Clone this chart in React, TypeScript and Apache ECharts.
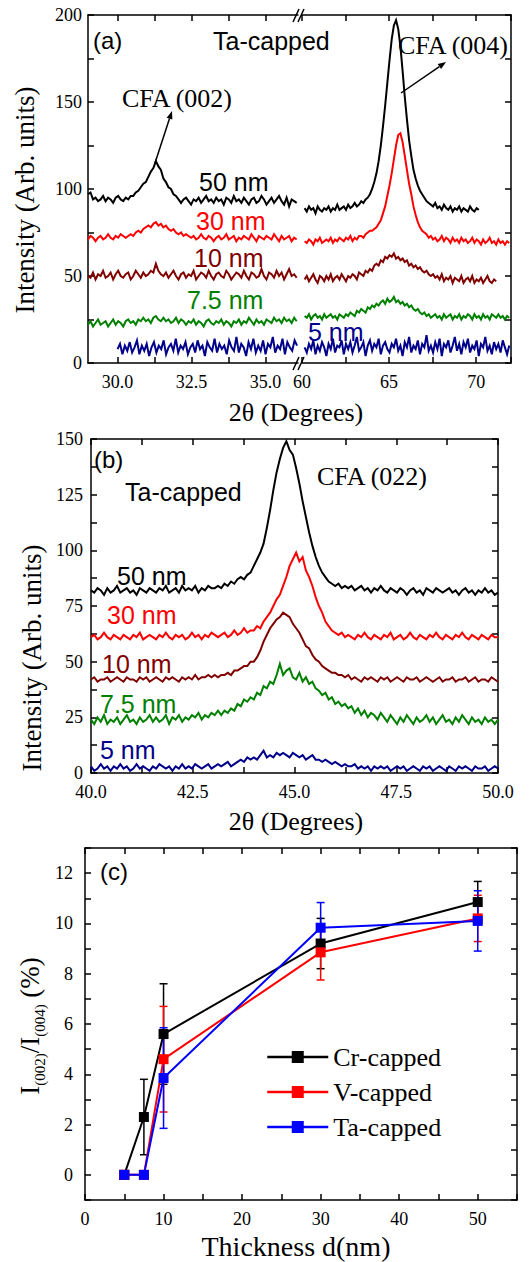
import React, { useEffect, useRef } from 'react';
import * as echarts from 'echarts';

const SANS = "'Liberation Sans', Arial, Helvetica, sans-serif";
const SERIF = "'Liberation Serif', 'Times New Roman', Times, serif";
const C_BLACK = '#000000';
const C_RED = '#ff0000';
const C_DRED = '#800000';
const C_GREEN = '#008000';
const C_NAVY = '#00008b';

// ---------- Panel (a), left segment (CFA 002 region) ----------
const A_LEFT_START = 29.0;
const A_LEFT_STEP = 0.085;
const A_LEFT_BLUE_START = 30.0;
const A_LEFT_BLUE_STEP = 0.082;
const A_L_50 = [97, 98, 94, 95, 93, 94, 96, 93, 95, 94, 92, 95, 96, 94, 93, 95, 94, 96,
  96, 98, 99, 101, 103, 104, 107, 110, 112, 116, 113, 111, 106, 104, 101, 100, 97, 96, 94,
  92, 94, 95, 93, 91, 94, 93, 95, 92, 94, 96, 93, 94, 92, 95, 93, 94, 91, 95, 94, 92, 96, 93, 94, 92, 95, 93, 91, 94, 95, 92, 93, 96, 94, 91, 93, 95, 92, 94, 96, 93, 91, 95, 90, 94, 93, 92];
const A_L_30 = [71, 73, 72, 70, 72, 73, 71, 72, 74, 72, 71, 73, 72, 74, 73, 72,
  73, 74, 73, 75, 76, 75, 77, 78, 79, 78, 80, 81, 79, 80, 78, 79, 77, 76, 77, 75, 74, 75, 73, 74, 73,
  72, 73, 71, 72, 74, 72, 71, 73, 72, 70, 72, 73, 71, 72, 74, 71, 72, 73, 70, 72, 71, 73, 72, 71, 74, 72, 70, 73, 72, 71, 73, 72, 71, 74, 72, 70, 73, 71, 72, 73, 70, 72, 71];
const A_L_10 = [50, 49, 52, 48, 51, 50, 53, 49, 50, 52, 48, 51, 53, 50, 49, 51, 52, 48, 50, 53,
  51, 49, 52, 50, 51, 53, 52, 57, 53, 51, 50, 52, 49, 51, 53, 50, 48, 51, 52, 49,
  51, 50, 53, 48, 50, 52, 51, 49, 53, 50, 48, 51, 52, 50, 49, 53, 51, 48, 50, 52,
  51, 49, 53, 50, 48, 52, 51, 49, 50, 54, 50, 48, 52, 51, 49, 53, 50, 52, 48, 51, 54, 50, 51, 49];
const A_L_75 = [22, 24, 21, 23, 25, 22, 23, 24, 21, 23, 25, 22, 24, 23, 21, 24, 25, 23, 24, 22,
  25, 24, 26, 24, 25, 23, 26, 27, 25, 24, 26, 24, 25, 23, 24, 26, 23, 25, 24, 22,
  24, 23, 25, 22, 24, 23, 21, 24, 25, 23, 22, 24, 23, 25, 22, 24, 23, 21, 24, 23,
  25, 22, 24, 23, 26, 24, 22, 25, 23, 24, 22, 25, 24, 23, 26, 24, 25, 23, 26, 24, 25, 23, 26, 24];
const A_L_5 = [8, 11, 5, 10, 7, 12, 6, 9, 13, 5, 10, 7, 11, 4, 9, 12, 6, 10, 8, 13,
  5, 9, 11, 7, 14, 6, 10, 8, 12, 5, 9, 11, 6, 13, 8, 10, 4, 12, 9, 7,
  14, 6, 11, 8, 10, 5, 13, 9, 7, 15, 6, 11, 9, 4, 12, 8, 14, 6, 10, 7,
  13, 5, 11, 9, 15, 6, 10, 8, 14, 5, 12, 9, 7, 13, 10];

// ---------- Panel (a), right segment (CFA 004 region) ----------
const A_RIGHT_START = 60.15;
const A_RIGHT_STEP = 0.125;
const A_R_50 = [89, 87, 90, 88, 89, 86, 90, 88, 87, 89, 88, 90, 87, 89, 88, 91, 88, 89, 90, 88,
  91, 89, 90, 92, 90, 91, 93, 92, 94, 95, 97, 100, 104, 109, 116, 125, 136, 148, 161, 174,
  186, 194, 197, 192, 182, 168, 153, 140, 128, 119, 111, 106, 102, 99, 97, 95, 93, 92, 91, 90,
  92, 89, 90, 88, 91, 89, 88, 90, 87, 89, 88, 90, 87, 89, 88, 87, 90, 88, 87, 89, 88];
const A_R_30 = [70, 69, 71, 70, 68, 71, 70, 72, 69, 70, 71, 70, 72, 69, 71, 70, 72, 71, 70, 72,
  71, 73, 70, 72, 71, 73, 73, 72, 74, 75, 76, 76, 77, 78, 80, 82, 86, 90, 96, 102,
  109, 117, 125, 131, 132, 127, 119, 111, 103, 97, 90, 85, 81, 78, 76, 75, 74, 72, 73, 71,
  72, 70, 71, 73, 70, 72, 71, 69, 72, 70, 71, 69, 72, 70, 71, 69, 70, 72, 69, 71,
  70, 68, 71, 69, 70, 72, 69, 70, 68, 71, 69, 70, 68, 70, 69];
const A_R_10 = [48, 50, 47, 49, 51, 48, 46, 50, 49, 47, 50, 48, 51, 47, 49, 50, 48, 51, 49, 47,
  50, 49, 51, 50, 48, 52, 51, 50, 53, 52, 54, 53, 56, 57, 56, 59, 58, 61, 60, 62,
  61, 63, 60, 61, 59, 60, 58, 59, 56, 57, 55, 56, 54, 55, 53, 52, 53, 51, 50, 51,
  49, 50, 48, 51, 47, 49, 48, 50, 46, 49, 48, 47, 50, 46, 48, 49, 47, 50, 46, 48,
  47, 49, 46, 48, 50, 47, 46, 48, 47];
const A_R_75 = [27, 26, 28, 25, 27, 28, 26, 27, 25, 28, 26, 27, 28, 26, 27, 25, 28, 27, 26, 28,
  27, 29, 28, 27, 30, 29, 31, 30, 29, 32, 31, 33, 32, 34, 33, 35, 36, 34, 37, 35,
  36, 38, 35, 36, 34, 35, 33, 34, 32, 33, 31, 30, 31, 29, 28, 29, 27, 28, 26, 27,
  28, 26, 27, 25, 28, 26, 27, 28, 25, 27, 26, 28, 25, 27, 26, 28, 27, 25, 28, 26,
  27, 25, 28, 26, 27, 25, 28, 27, 26, 28, 26, 27, 25, 27, 26];
const A_R_5 = [9, 6, 11, 8, 13, 5, 10, 7, 12, 9, 4, 11, 8, 14, 6, 10, 9, 13, 5, 11,
  8, 12, 6, 10, 15, 7, 9, 12, 4, 10, 13, 7, 11, 9, 14, 5, 10, 12, 8, 6,
  11, 9, 14, 7, 10, 4, 12, 9, 15, 6, 10, 8, 13, 5, 11, 9, 16, 7, 10, 6,
  12, 8, 14, 4, 11, 9, 13, 6, 10, 15, 7, 11, 5, 12, 9, 14, 6, 10, 8, 13,
  4, 11, 9, 15, 7, 10, 5, 12, 8, 11, 6, 13, 9, 5, 10];

// ---------- Panel (b), CFA (022) ----------
const B_START = 40.0;
const B_STEP = 0.08;
const B_50 = [82, 81, 83, 82, 80, 83, 81, 82, 84, 81, 82, 83, 81, 82, 80, 83, 82, 81, 83, 82,
  81, 83, 82, 84, 81, 82, 83, 81, 84, 82, 83, 82, 84, 81, 83, 82, 84, 83, 83, 84,
  83, 85, 84, 86, 85, 87, 88, 87, 89, 90, 93, 96, 99, 103, 110, 118, 127, 135, 141, 146,
  149, 145, 143, 137, 130, 122, 115, 108, 102, 97, 93, 90, 88, 86, 85, 84, 85, 83, 84, 83,
  84, 82, 83, 84, 82, 83, 81, 83, 82, 84, 82, 81, 83, 82, 81, 83, 82, 80, 82, 83,
  81, 82, 80, 83, 82, 81, 83, 82, 81, 82, 83, 81, 82, 80, 82, 83, 81, 82, 80, 82,
  81, 83, 81, 82, 80, 81];
const B_30 = [61, 62, 60, 61, 63, 61, 60, 62, 61, 60, 62, 61, 60, 62, 61, 63, 60, 61, 62, 61,
  60, 62, 61, 63, 61, 60, 62, 61, 62, 60, 61, 63, 61, 62, 60, 62, 61, 63, 62, 61,
  62, 63, 61, 62, 64, 62, 63, 65, 63, 64, 64, 66, 65, 68, 70, 72, 75, 78, 80, 84,
  88, 93, 96, 99, 95, 97, 91, 88, 84, 79, 75, 72, 68, 66, 64, 63, 62, 63, 61, 62,
  61, 60, 62, 61, 63, 61, 60, 62, 61, 60, 62, 61, 63, 60, 61, 62, 60, 61, 63, 61,
  60, 62, 61, 60, 62, 61, 63, 61, 60, 62, 61, 60, 62, 61, 63, 61, 60, 62, 61, 60,
  62, 61, 60, 62, 61, 61];
const B_10 = [42, 43, 41, 42, 42, 43, 41, 42, 43, 42, 41, 43, 42, 42, 41, 43, 42, 43, 41, 42,
  43, 42, 41, 43, 42, 43, 42, 41, 43, 42, 43, 42, 44, 42, 43, 43, 44, 43, 44, 43,
  44, 44, 45, 44, 46, 46, 47, 48, 48, 50, 50, 52, 55, 59, 62, 65, 67, 69, 70, 72,
  71, 70, 67, 65, 63, 60, 57, 56, 53, 51, 50, 48, 47, 46, 45, 45, 44, 44, 43, 44,
  42, 43, 42, 41, 43, 42, 43, 42, 41, 43, 42, 43, 41, 42, 43, 42, 41, 43, 42, 42,
  43, 41, 42, 43, 42, 41, 42, 43, 41, 42, 42, 43, 41, 42, 42, 43, 41, 42, 43, 41,
  42, 42, 41, 43, 42, 41];
const B_75 = [24, 22, 25, 23, 26, 22, 24, 23, 25, 22, 24, 26, 23, 24, 22, 25, 23, 24, 26, 23,
  25, 23, 24, 26, 22, 25, 24, 26, 23, 25, 24, 26, 25, 27, 24, 26, 25, 27, 26, 28,
  26, 28, 27, 29, 28, 31, 30, 33, 32, 34, 33, 36, 35, 39, 38, 41, 40, 44, 49, 44,
  46, 47, 43, 42, 45, 41, 43, 40, 41, 38, 37, 35, 36, 33, 34, 31, 32, 30, 31, 29,
  30, 27, 29, 26, 28, 25, 27, 26, 24, 27, 25, 23, 26, 24, 22, 25, 23, 26, 24, 22,
  25, 23, 24, 26, 23, 25, 22, 24, 26, 23, 24, 22, 25, 23, 26, 24, 22, 25, 23, 24,
  22, 25, 23, 24, 22, 24];
const B_5 = [3, 1, 2, 4, 2, 3, 1, 3, 2, 4, 2, 3, 1, 2, 4, 2, 3, 2, 1, 3,
  2, 4, 3, 2, 3, 1, 3, 2, 4, 2, 3, 2, 4, 3, 2, 3, 4, 2, 3, 4,
  3, 4, 5, 3, 4, 5, 6, 5, 7, 6, 7, 6, 8, 10, 7, 8, 7, 9, 8, 9,
  8, 7, 9, 8, 7, 8, 6, 7, 8, 6, 6, 5, 6, 5, 4, 5, 4, 3, 4, 3,
  3, 4, 2, 3, 2, 3, 1, 3, 2, 3, 2, 3, 1, 2, 3, 2, 3, 1, 2, 3,
  2, 1, 3, 2, 3, 1, 2, 3, 2, 1, 3, 2, 1, 3, 2, 3, 2, 1, 3, 2,
  2, 3, 1, 2, 3, 2];

// ---------- Panel (c) ----------
const THICKNESS = [5, 7.5, 10, 30, 50];
const CR_VAL = [0, 2.3, 5.6, 9.2, 10.85];
const CR_ERR = [0, 1.5, 2.0, 1.0, 0.82];
const V_VAL = [0, 0, 4.6, 8.85, 10.2];
const V_ERR = [0, 0, 2.1, 1.1, 0.92];
const TA_VAL = [0, 0, 3.85, 9.83, 10.1];
const TA_ERR = [0, 0, 2.0, 1.0, 1.2];

const curve = (x0: number, step: number, ys: number[]) =>
  ys.map((y, i) => [+(x0 + step * i).toFixed(4), y]);

const AX = { color: '#000', width: 1.5 };

function xAx(grid: number, pos: string, min: number, max: number, extra: any = {}, showLabel = true, labelFmt?: any) {
  return {
    type: 'value', gridIndex: grid, position: pos, min, max,
    axisLine: { show: true, onZero: false, lineStyle: AX },
    axisTick: { show: true, inside: true, length: 6, lineStyle: AX, ...(extra.tick || {}) },
    axisLabel: {
      show: showLabel, color: '#000', fontFamily: SERIF, fontSize: 18, margin: 10, interval: 0,
      formatter: labelFmt, ...(extra.label || {}),
    },
    splitLine: { show: false },
    ...(extra.interval !== undefined ? { interval: extra.interval } : {}),
  };
}
function yAx(grid: number, pos: string, min: number, max: number, interval: number, showLabel: boolean, labelFmt?: any, margin = 8) {
  return {
    type: 'value', gridIndex: grid, position: pos, min, max, interval,
    axisLine: { show: true, onZero: false, lineStyle: AX },
    axisTick: { show: true, inside: true, length: 6, lineStyle: AX },
    axisLabel: { show: showLabel, color: '#000', fontFamily: SERIF, fontSize: 18, margin, interval: 0, formatter: labelFmt },
    splitLine: { show: false },
  };
}

function lineSeries(name: string, xi: number, yi: number, data: any[], color: string, width = 2) {
  return {
    name, type: 'line', xAxisIndex: xi, yAxisIndex: yi, data, showSymbol: false, symbol: 'none',
    lineStyle: { color, width, join: 'miter' }, itemStyle: { color }, silent: true, z: 3,
  };
}

function txt(text: string, x: number, y: number, font: string, size: number, fill = '#000', align = 'left') {
  return {
    type: 'text', x, y, z: 10,
    style: { text, fontFamily: font, fontSize: size, fill, align, verticalAlign: 'middle' },
  };
}

function arrow(x1: number, y1: number, x2: number, y2: number) {
  const dx = x2 - x1, dy = y2 - y1;
  const L = Math.sqrt(dx * dx + dy * dy);
  const ux = dx / L, uy = dy / L;
  const hl = 8, hw = 3;
  const bx = x2 - ux * hl, by = y2 - uy * hl;
  return [
    { type: 'line', z: 10, shape: { x1, y1, x2: bx, y2: by }, style: { stroke: '#000', lineWidth: 1.5 } },
    {
      type: 'polygon', z: 10,
      shape: { points: [[x2, y2], [bx - uy * hw, by + ux * hw], [bx + uy * hw, by - ux * hw]] },
      style: { fill: '#000' },
    },
  ];
}

function errSeries(vals: number[], errs: number[], color: string) {
  const data = THICKNESS.map((t, i) => [t, vals[i] - errs[i], vals[i] + errs[i]]).filter((d, i) => errs[i] > 0);
  return {
    type: 'custom', xAxisIndex: 6, yAxisIndex: 4, data, silent: true, z: 2,
    renderItem: (_p: any, api: any) => {
      const x = api.value(0);
      const p1 = api.coord([x, api.value(1)]);
      const p2 = api.coord([x, api.value(2)]);
      const w = 4;
      const st = { stroke: color, lineWidth: 1.5 };
      return {
        type: 'group',
        children: [
          { type: 'line', shape: { x1: p1[0], y1: p1[1], x2: p2[0], y2: p2[1] }, style: st },
          { type: 'line', shape: { x1: p1[0] - w, y1: p1[1], x2: p1[0] + w, y2: p1[1] }, style: st },
          { type: 'line', shape: { x1: p2[0] - w, y1: p2[1], x2: p2[0] + w, y2: p2[1] }, style: st },
        ],
      };
    },
  };
}

function pointSeries(name: string, vals: number[], color: string) {
  return {
    name, type: 'line', xAxisIndex: 6, yAxisIndex: 4,
    data: THICKNESS.map((t, i) => [t, vals[i]]),
    symbol: 'rect', symbolSize: 10, showSymbol: true,
    lineStyle: { color, width: 2 }, itemStyle: { color }, z: 4,
  };
}

export default function App() {
  const ref = useRef<HTMLDivElement>(null);
  useEffect(() => {
    document.body.style.margin = '0';
    if (!ref.current) return;
    const chart = echarts.init(ref.current, null, { renderer: 'svg' });

    const fmt1 = (v: number) => v.toFixed(1);
    const graphic: any[] = [
      // panel (a)
      txt('(a)', 93, 40, SANS, 24),
      txt('Ta-capped', 213, 41, SANS, 25),
      txt('CFA (002)', 122, 98, SERIF, 26),
      txt('CFA (004)', 398, 45, SERIF, 26),
      txt('50 nm', 199, 182, SANS, 25, C_BLACK),
      txt('30 nm', 196, 221, SANS, 25, C_RED),
      txt('10 nm', 194, 258, SANS, 25, C_DRED),
      txt('7.5 nm', 187, 300, SANS, 25, C_GREEN),
      txt('5 nm', 308, 332, SANS, 25, C_NAVY),
      ...arrow(155, 163, 172, 111),
      ...arrow(401, 93, 446, 62),
      { type: 'line', z: 10, shape: { x1: 293, y1: 22, x2: 299, y2: 9 }, style: { stroke: '#000', lineWidth: 1.5 } },
      { type: 'line', z: 10, shape: { x1: 298, y1: 22, x2: 304, y2: 9 }, style: { stroke: '#000', lineWidth: 1.5 } },
      { type: 'line', z: 10, shape: { x1: 293, y1: 370, x2: 299, y2: 357 }, style: { stroke: '#000', lineWidth: 1.5 } },
      { type: 'line', z: 10, shape: { x1: 298, y1: 370, x2: 304, y2: 357 }, style: { stroke: '#000', lineWidth: 1.5 } },
      {
        type: 'text', x: 25, y: 200, rotation: Math.PI / 2, z: 10,
        style: { text: 'Intensity (Arb. units)', fontFamily: SERIF, fontSize: 27, fill: '#000', align: 'center', verticalAlign: 'middle' },
      },
      txt('2θ (Degrees)', 296, 412, SERIF, 26, '#000', 'center'),
      // panel (b)
      txt('(b)', 94, 459, SANS, 24),
      txt('Ta-capped', 125, 492, SANS, 25),
      txt('CFA (022)', 317, 476, SERIF, 26),
      txt('50 nm', 117, 576, SANS, 25, C_BLACK),
      txt('30 nm', 107, 615, SANS, 25, C_RED),
      txt('10 nm', 102, 664, SANS, 25, C_DRED),
      txt('7.5 nm', 100, 704, SANS, 25, C_GREEN),
      txt('5 nm', 100, 750, SANS, 25, C_NAVY),
      {
        type: 'text', x: 32, y: 658, rotation: Math.PI / 2, z: 10,
        style: { text: 'Intensity (Arb. units)', fontFamily: SERIF, fontSize: 27, fill: '#000', align: 'center', verticalAlign: 'middle' },
      },
      txt('2θ (Degrees)', 296, 821, SERIF, 26, '#000', 'center'),
      // panel (c)
      txt('(c)', 100, 871, SANS, 24),
      {
        type: 'text', x: 30, y: 1026, rotation: Math.PI / 2, z: 10,
        style: {
          text: '{m|I}{s|(002)}{m|/I}{s|(004)}{m| (%)}',
          align: 'center', verticalAlign: 'middle',
          rich: {
            m: { fontFamily: SERIF, fontSize: 27, fill: '#000', lineHeight: 34 },
            s: { fontFamily: SERIF, fontSize: 15, fill: '#000', lineHeight: 16, verticalAlign: 'bottom' },
          },
        },
      },
      txt('Thickness d(nm)', 296, 1246, SERIF, 28, '#000', 'center'),
    ];

    const option: any = {
      animation: false,
      textStyle: { fontFamily: SERIF },
      grid: [
        { left: 88, top: 15, width: 210, height: 348 },
        { left: 302, top: 15, width: 209, height: 348 },
        { left: 91, top: 439, width: 407, height: 334 },
        { left: 85, top: 848, width: 432, height: 352 },
      ],
      xAxis: [
        xAx(0, 'bottom', 29.0, 36.1, {
          tick: { customValues: [30, 31.25, 32.5, 33.75, 35] },
          label: { customValues: [30, 32.5, 35] },
        }, true, fmt1),
        xAx(0, 'top', 29.0, 36.1, { tick: { customValues: [30, 31.25, 32.5, 33.75, 35] } }, false),
        xAx(1, 'bottom', 60, 72, { interval: 2.5 }, true, (v: number) => (v % 5 === 0 ? String(v) : '')),
        xAx(1, 'top', 60, 72, { interval: 2.5 }, false),
        xAx(2, 'bottom', 40, 50, { interval: 1.25 }, true, (v: number) => (Math.abs(v % 2.5) < 1e-6 ? v.toFixed(1) : '')),
        xAx(2, 'top', 40, 50, { interval: 1.25 }, false),
        xAx(3, 'bottom', 0, 55, { interval: 5, label: { margin: 10 } }, true, (v: number) => (v % 10 === 0 ? String(v) : '')),
        xAx(3, 'top', 0, 55, { interval: 5 }, false),
      ],
      yAxis: [
        yAx(0, 'left', 0, 200, 25, true, (v: number) => (v % 50 === 0 ? String(v) : ''), 6),
        yAx(1, 'right', 0, 200, 25, false),
        yAx(2, 'left', 0, 150, 12.5, true, (v: number) => (Math.abs(v % 25) < 1e-6 ? String(v) : ''), 8),
        yAx(2, 'right', 0, 150, 12.5, false),
        yAx(3, 'left', -1, 13, 1, true, (v: number) => (v >= 0 && v % 2 === 0 ? String(v) : ''), 12),
        yAx(3, 'right', -1, 13, 1, false),
      ],
      legend: {
        orient: 'vertical', left: 261, top: 1039,
        itemWidth: 61, itemHeight: 15, itemGap: 9,
        data: ['Cr-capped', 'V-capped', 'Ta-capped'],
        lineStyle: { width: 2.5 },
        textStyle: { fontFamily: SERIF, fontSize: 26, color: '#000', lineHeight: 26 },
        selectedMode: false,
      },
      graphic,
      series: [
        // (a) left
        lineSeries('a50L', 0, 0, curve(A_LEFT_START, A_LEFT_STEP, A_L_50), C_BLACK),
        lineSeries('a30L', 0, 0, curve(A_LEFT_START, A_LEFT_STEP, A_L_30), C_RED),
        lineSeries('a10L', 0, 0, curve(A_LEFT_START, A_LEFT_STEP, A_L_10), C_DRED),
        lineSeries('a75L', 0, 0, curve(A_LEFT_START, A_LEFT_STEP, A_L_75), C_GREEN),
        lineSeries('a5L', 0, 0, curve(A_LEFT_BLUE_START, A_LEFT_BLUE_STEP, A_L_5), C_NAVY),
        // (a) right
        lineSeries('a50R', 2, 1, curve(A_RIGHT_START, A_RIGHT_STEP, A_R_50), C_BLACK),
        lineSeries('a30R', 2, 1, curve(A_RIGHT_START, A_RIGHT_STEP, A_R_30), C_RED),
        lineSeries('a10R', 2, 1, curve(A_RIGHT_START, A_RIGHT_STEP, A_R_10), C_DRED),
        lineSeries('a75R', 2, 1, curve(A_RIGHT_START, A_RIGHT_STEP, A_R_75), C_GREEN),
        lineSeries('a5R', 2, 1, curve(A_RIGHT_START, A_RIGHT_STEP, A_R_5), C_NAVY),
        // (b)
        lineSeries('b50', 4, 2, curve(B_START, B_STEP, B_50), C_BLACK),
        lineSeries('b30', 4, 2, curve(B_START, B_STEP, B_30), C_RED),
        lineSeries('b10', 4, 2, curve(B_START, B_STEP, B_10), C_DRED),
        lineSeries('b75', 4, 2, curve(B_START, B_STEP, B_75), C_GREEN),
        lineSeries('b5', 4, 2, curve(B_START, B_STEP, B_5), C_NAVY),
        // (c)
        errSeries(CR_VAL, CR_ERR, C_BLACK),
        errSeries(V_VAL, V_ERR, C_RED),
        errSeries(TA_VAL, TA_ERR, '#0000ff'),
        pointSeries('Cr-capped', CR_VAL, C_BLACK),
        pointSeries('V-capped', V_VAL, C_RED),
        pointSeries('Ta-capped', TA_VAL, '#0000ff'),
      ],
    };
    chart.setOption(option);
    return () => chart.dispose();
  }, []);
  return <div ref={ref} style={{ width: 531, height: 1262 }} />;
}
